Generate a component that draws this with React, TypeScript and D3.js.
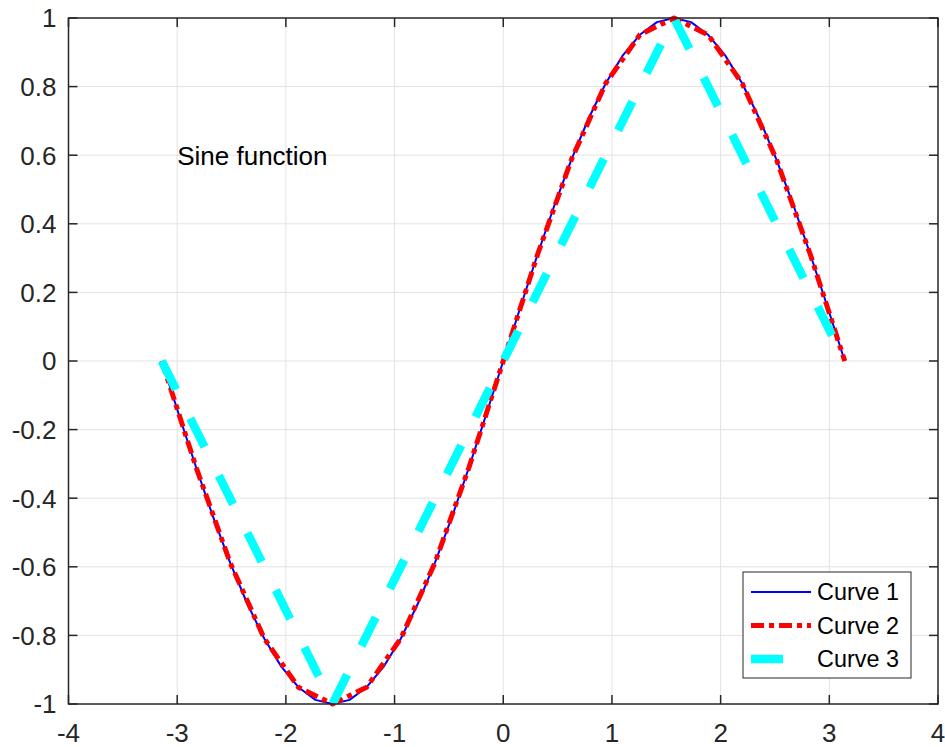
import React from 'react';
import * as d3 from 'd3';

// Curve 1: fine sampling of sin(x)
const x1 = [-3.142, -2.985, -2.827, -2.670, -2.513, -2.356, -2.199, -2.042, -1.885, -1.728, -1.571,
  -1.414, -1.257, -1.100, -0.942, -0.785, -0.628, -0.471, -0.314, -0.157, 0,
  0.157, 0.314, 0.471, 0.628, 0.785, 0.942, 1.100, 1.257, 1.414, 1.571,
  1.728, 1.885, 2.042, 2.199, 2.356, 2.513, 2.670, 2.827, 2.985, 3.142];
const y1 = [0, -0.156, -0.309, -0.454, -0.588, -0.707, -0.809, -0.891, -0.951, -0.988, -1,
  -0.988, -0.951, -0.891, -0.809, -0.707, -0.588, -0.454, -0.309, -0.156, 0,
  0.156, 0.309, 0.454, 0.588, 0.707, 0.809, 0.891, 0.951, 0.988, 1,
  0.988, 0.951, 0.891, 0.809, 0.707, 0.588, 0.454, 0.309, 0.156, 0];

// Curve 2: coarser sampling
const x2 = [-3.142, -2.827, -2.513, -2.199, -1.885, -1.571, -1.257, -0.942, -0.628, -0.314, 0,
  0.314, 0.628, 0.942, 1.257, 1.571, 1.885, 2.199, 2.513, 2.827, 3.142];
const y2 = [0, -0.309, -0.588, -0.809, -0.951, -1, -0.951, -0.809, -0.588, -0.309, 0,
  0.309, 0.588, 0.809, 0.951, 1, 0.951, 0.809, 0.588, 0.309, 0];

// Curve 3: five points
const x3 = [-3.142, -1.571, 0, 1.571, 3.142];
const y3 = [0, -1, 0, 1, 0];

const xTicks = [-4, -3, -2, -1, 0, 1, 2, 3, 4];
const yTicks = [-1, -0.8, -0.6, -0.4, -0.2, 0, 0.2, 0.4, 0.6, 0.8, 1];
const legendLabels = ['Curve 1', 'Curve 2', 'Curve 3'];

const W = 945;
const H = 747;
const margin = { top: 18, right: 7, bottom: 43, left: 68.5 };
const FONT = '"Liberation Sans", Arial, Helvetica, sans-serif';
const AX = '#262626';

const App = () => {
  const x = d3.scaleLinear().domain([-4, 4]).range([margin.left, W - margin.right]);
  const y = d3.scaleLinear().domain([-1, 1]).range([H - margin.bottom, margin.top]);

  const line = d3.line<[number, number]>()
    .x(d => x(d[0]))
    .y(d => y(d[1]));

  const zip = (xs: number[], ys: number[]) => xs.map((v, i) => [v, ys[i]] as [number, number]);

  const [x0, xN] = x.range();
  const [yB, yT] = y.range();
  const tickLen = 9;

  const series = [
    { label: legendLabels[0], d: line(zip(x1, y1)), color: '#0000ff', width: 2, dash: undefined, legLen: 60 },
    { label: legendLabels[1], d: line(zip(x2, y2)), color: '#ff0000', width: 5, dash: '13,5,5,5', legLen: 60 },
    { label: legendLabels[2], d: line(zip(x3, y3)), color: '#00ffff', width: 8.5, dash: '32,32', legLen: 32 },
  ];

  const legX = 743;
  const legY = 572;

  return (
    <svg width={W} height={H} style={{ position: 'absolute', left: 0, top: 0, background: '#fff' }}
      fontFamily={FONT}>
      {/* grid */}
      <g stroke="#e3e3e3" strokeWidth={1}>
        {xTicks.slice(1, -1).map(t => (
          <line key={'gx' + t} x1={x(t)} x2={x(t)} y1={yT} y2={yB} />
        ))}
        {yTicks.slice(1, -1).map(t => (
          <line key={'gy' + t} x1={x0} x2={xN} y1={y(t)} y2={y(t)} />
        ))}
      </g>

      {/* curves */}
      {series.map(s => (
        <path key={s.label} d={s.d ?? ''} fill="none" stroke={s.color} strokeWidth={s.width}
          strokeDasharray={s.dash} strokeLinejoin="round" />
      ))}

      {/* axes box and ticks */}
      <rect x={x0} y={yT} width={xN - x0} height={yB - yT} fill="none" stroke={AX} strokeWidth={1.5} />
      <g stroke={AX} strokeWidth={1.5}>
        {xTicks.map(t => (
          <g key={'tx' + t}>
            <line x1={x(t)} x2={x(t)} y1={yB} y2={yB - tickLen} />
            <line x1={x(t)} x2={x(t)} y1={yT} y2={yT + tickLen} />
          </g>
        ))}
        {yTicks.map(t => (
          <g key={'ty' + t}>
            <line x1={x0} x2={x0 + tickLen} y1={y(t)} y2={y(t)} />
            <line x1={xN} x2={xN - tickLen} y1={y(t)} y2={y(t)} />
          </g>
        ))}
      </g>

      {/* tick labels */}
      <g fill={AX} fontSize={26}>
        {xTicks.map(t => (
          <text key={'lx' + t} x={x(t)} y={yB + 38} textAnchor="middle">{String(t)}</text>
        ))}
        {yTicks.map(t => (
          <text key={'ly' + t} x={x0 - 12} y={y(t)} dy="0.36em" textAnchor="end">{String(t)}</text>
        ))}
      </g>

      {/* annotation */}
      <text x={x(-3)} y={y(0.6)} dy="0.36em" fontSize={26} fill="#000">Sine function</text>

      {/* legend */}
      <rect x={legX} y={legY} width={168} height={106} fill="#fff" stroke={AX} strokeWidth={1} />
      {series.map((s, i) => {
        const ry = legY + 20 + i * 33.5;
        return (
          <g key={'leg' + i}>
            <line x1={751} x2={751 + s.legLen} y1={ry} y2={ry} stroke={s.color} strokeWidth={s.width}
              strokeDasharray={s.dash} />
            <text x={817} y={ry} dy="0.36em" fontSize={23.4} fill="#000">{s.label}</text>
          </g>
        );
      })}
    </svg>
  );
};

export default App;
